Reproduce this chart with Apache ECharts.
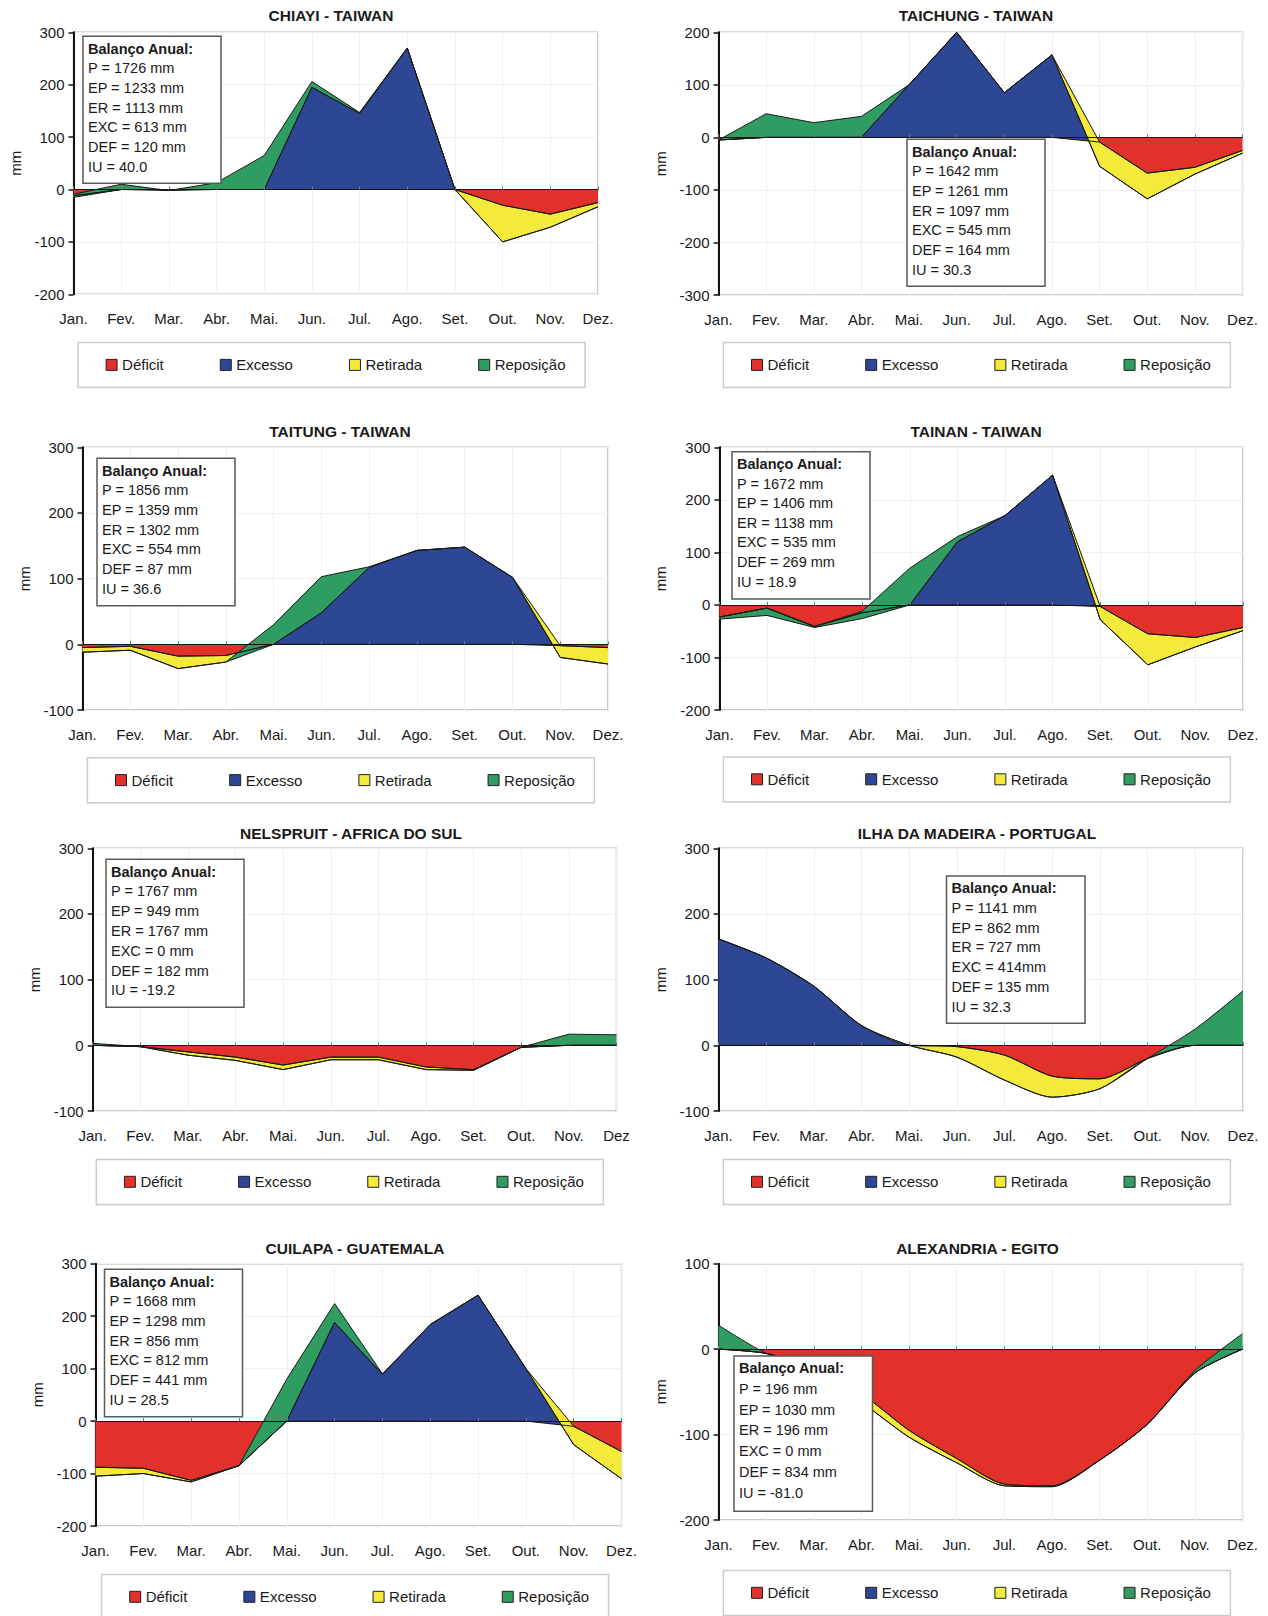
<!DOCTYPE html>
<html>
<head>
<meta charset="utf-8">
<script src="https://cdn.jsdelivr.net/npm/echarts@6/dist/echarts.min.js"></script>
<style>
html,body{margin:0;padding:0;background:#fff;}
#c{width:1268px;height:1616px;}
</style>
</head>
<body>
<div id="c"></div>
<script>
// ---------- DATA ----------
const months = ['Jan.','Fev.','Mar.','Abr.','Mai.','Jun.','Jul.','Ago.','Set.','Out.','Nov.','Dez.'];
const monthsNelspruit = ['Jan.','Fev.','Mar.','Abr.','Mai.','Jun.','Jul.','Ago.','Set.','Out.','Nov.','Dez'];
const seriesNames = ['Déficit','Excesso','Retirada','Reposição'];

const titles = ['CHIAYI - TAIWAN','TAICHUNG - TAIWAN','TAITUNG - TAIWAN','TAINAN - TAIWAN',
  'NELSPRUIT - AFRICA DO SUL','ILHA DA MADEIRA - PORTUGAL','CUILAPA - GUATEMALA','ALEXANDRIA - EGITO'];
const yMins = [-200,-300,-100,-200,-100,-100,-200,-200];
const yMaxs = [300,200,300,300,300,300,300,100];

// Chiayi
const chiayiDeficit   = [-12,0,0,0,0,0,0,0,0,-30,-47,-25];
const chiayiExcesso   = [0,0,0,0,0,195,145,270,0,0,0,0];
const chiayiRetirada  = [-3,0,-2,0,0,0,0,0,0,-70,-25,-8];
const chiayiReposicao = [6,10,0,13,65,11,2,0,0,0,0,0];
// Taichung
const taichungDeficit   = [-5,0,0,0,0,0,0,0,-9,-68,-57,-25];
const taichungExcesso   = [0,0,0,0,100,200,85,157,0,0,0,0];
const taichungRetirada  = [0,0,0,0,0,0,0,0,-46,-49,-13,-5];
const taichungReposicao = [0,45,28,40,0,0,0,0,0,0,0,0];
// Taitung
const taitungDeficit   = [-5,-3,-18,-17,0,0,0,0,0,0,-2,-5];
const taitungExcesso   = [0,0,0,0,0,48,117,143,148,102,0,0];
const taitungRetirada  = [-7,-6,-19,-10,0,0,0,0,0,0,-18,-25];
const taitungReposicao = [0,0,0,0,30,55,1,0,0,0,0,0];
// Tainan
const tainanDeficit   = [-23,-6,-41,-15,0,0,0,0,-3,-55,-62,-43];
const tainanExcesso   = [0,0,0,0,0,120,170,247,0,0,0,0];
const tainanRetirada  = [-4,-14,-2,-11,0,0,0,0,-25,-59,-18,-6];
const tainanReposicao = [4,14,2,14,70,10,0,0,0,0,0,0];
// Nelspruit
const nelspruitDeficit   = [0,-2,-10,-18,-30,-18,-18,-33,-37,-3,0,0];
const nelspruitExcesso   = [0,0,0,0,0,0,0,0,0,0,0,0];
const nelspruitRetirada  = [0,0,-5,-5,-7,-4,-4,-4,-1,0,0,0];
const nelspruitReposicao = [3,0,0,0,0,0,0,0,0,0,17,16];
// Ilha da Madeira
const madeiraDeficit   = [0,0,0,0,0,-2,-15,-47,-51,-20,0,0];
const madeiraExcesso   = [162,133,90,30,0,0,0,0,0,0,0,0];
const madeiraRetirada  = [0,0,0,0,0,-16,-38,-32,-15,0,0,0];
const madeiraReposicao = [0,0,0,0,0,0,0,0,0,0,25,83];
// Cuilapa
const cuilapaDeficit   = [-88,-90,-113,-85,0,0,0,0,0,0,-10,-58];
const cuilapaExcesso   = [0,0,0,0,0,188,89,184,240,100,0,0];
const cuilapaRetirada  = [-17,-10,-3,0,0,0,0,0,0,0,-35,-52];
const cuilapaReposicao = [0,0,0,0,80,36,1,0,0,0,0,0];
// Alexandria
const alexandriaDeficit   = [0,-5,-22,-52,-95,-128,-158,-160,-130,-88,-28,0];
const alexandriaExcesso   = [0,0,0,0,0,0,0,0,0,0,0,0];
const alexandriaRetirada  = [0,0,-3,-10,-8,-5,-2,-1,0,0,0,0];
const alexandriaReposicao = [28,0,0,0,0,0,0,0,0,0,3,18];

// Annual balance boxes
const chiayiBox     = ['Balanço Anual:','P = 1726 mm','EP = 1233 mm','ER = 1113 mm','EXC = 613 mm','DEF = 120 mm','IU = 40.0'];
const taichungBox   = ['Balanço Anual:','P = 1642 mm','EP = 1261 mm','ER = 1097 mm','EXC = 545 mm','DEF = 164 mm','IU = 30.3'];
const taitungBox    = ['Balanço Anual:','P = 1856 mm','EP = 1359 mm','ER = 1302 mm','EXC = 554 mm','DEF = 87 mm','IU = 36.6'];
const tainanBox     = ['Balanço Anual:','P = 1672 mm','EP = 1406 mm','ER = 1138 mm','EXC = 535 mm','DEF = 269 mm','IU = 18.9'];
const nelspruitBox  = ['Balanço Anual:','P = 1767 mm','EP = 949 mm','ER = 1767 mm','EXC = 0 mm','DEF = 182 mm','IU = -19.2'];
const madeiraBox    = ['Balanço Anual:','P = 1141 mm','EP = 862 mm','ER = 727 mm','EXC = 414mm','DEF = 135 mm','IU = 32.3'];
const cuilapaBox    = ['Balanço Anual:','P = 1668 mm','EP = 1298 mm','ER = 856 mm','EXC = 812 mm','DEF = 441 mm','IU = 28.5'];
const alexandriaBox = ['Balanço Anual:','P = 196 mm','EP = 1030 mm','ER = 196 mm','EXC = 0 mm','DEF = 834 mm','IU = -81.0'];

// ---------- ASSEMBLY ----------
const panelValues = [
  [chiayiDeficit, chiayiExcesso, chiayiRetirada, chiayiReposicao],
  [taichungDeficit, taichungExcesso, taichungRetirada, taichungReposicao],
  [taitungDeficit, taitungExcesso, taitungRetirada, taitungReposicao],
  [tainanDeficit, tainanExcesso, tainanRetirada, tainanReposicao],
  [nelspruitDeficit, nelspruitExcesso, nelspruitRetirada, nelspruitReposicao],
  [madeiraDeficit, madeiraExcesso, madeiraRetirada, madeiraReposicao],
  [cuilapaDeficit, cuilapaExcesso, cuilapaRetirada, cuilapaReposicao],
  [alexandriaDeficit, alexandriaExcesso, alexandriaRetirada, alexandriaReposicao]
];
const panelBoxes = [chiayiBox, taichungBox, taitungBox, tainanBox, nelspruitBox, madeiraBox, cuilapaBox, alexandriaBox];
const panelMonths = [months, months, months, months, monthsNelspruit, months, months, months];

// layout (pixels)
const layout = [
  {grid:[73.5,32.3,524.5,262],   title:[331,15.5],    box:[83,36.3,138,147],    gap:19.7, legend:[78,342.6]},
  {grid:[718.5,32.3,524,262.7],  title:[976,15.5],    box:[907,139.3,138,147],  gap:19.7, legend:[723.4,342.6]},
  {grid:[82.5,447.3,525.5,262.7],title:[340,431],     box:[97,458.3,138,147.5], gap:19.7, legend:[87.4,757.8]},
  {grid:[719.4,447.3,523.6,262.7],title:[976,431],    box:[732,451.7,138,147.3],gap:19.6, legend:[723.4,757]},
  {grid:[92.7,848.3,523.8,262.7],title:[351,833],     box:[106,859.3,138,148],  gap:19.8, legend:[96.3,1159.5]},
  {grid:[718.5,848.3,524.5,262.7],title:[977,833],    box:[946.5,876,138.5,147.3],gap:19.7, legend:[723.4,1159.5]},
  {grid:[95.5,1263.7,526,262.3], title:[355,1248.5],  box:[104.5,1269.3,138,147.4],gap:19.7, legend:[101.6,1574.5]},
  {grid:[718.5,1263.7,524,256.3],title:[977.5,1248.5],box:[734,1356,138.5,155.3],gap:20.7, legend:[723.4,1570.5]}
];
const smoothFlags = [false,false,false,false,false,0.25,false,0.25];
const fillColors = ['#e2312b','#2d4795','#f3ea3b','#2f9c62'];
const FONT = '"Liberation Sans", Arial, Helvetica, sans-serif';
const TXT = '#1a1a1a';

const grids = [], xAxes = [], yAxes = [], series = [], legends = [], graphics = [];

layout.forEach((L, i) => {
  const [gl, gt, gw, gh] = L.grid;
  grids.push({left: gl, top: gt, width: gw, height: gh, show: true,
    borderColor: '#b8b8b8', borderWidth: 1.5, backgroundColor: 'transparent',
    containLabel: false, outerBoundsMode: 'none'});
  // label axis at bottom
  xAxes.push({type: 'category', gridIndex: i, data: panelMonths[i], boundaryGap: false, position: 'bottom',
    axisLine: {show: false, onZero: false}, axisTick: {show: false},
    axisLabel: {interval: 0, fontSize: 15, color: TXT, margin: 17, fontFamily: FONT},
    splitLine: {show: true, interval: 0, lineStyle: {color: '#f0f0f0', width: 1}}});
  // axis line crossing at zero
  xAxes.push({type: 'category', gridIndex: i, data: panelMonths[i], boundaryGap: false, position: 'top',
    axisLine: {show: true, onZero: true, lineStyle: {color: '#161616', width: 1}},
    axisTick: {show: true, interval: 0, length: 3, lineStyle: {color: '#777', width: 1}},
    axisLabel: {show: false}, splitLine: {show: false}, z: 6});
  yAxes.push({type: 'value', gridIndex: i, min: yMins[i], max: yMaxs[i], interval: 100,
    axisLine: {show: true, onZero: false, lineStyle: {color: '#111', width: 2}},
    axisTick: {show: true, length: 5, lineStyle: {color: '#111', width: 1.5}},
    axisLabel: {fontSize: 15, color: TXT, margin: 9, fontFamily: FONT},
    splitLine: {show: true, lineStyle: {color: '#f0f0f0', width: 1}},
    name: 'mm', nameLocation: 'middle', nameGap: 51,
    nameTextStyle: {fontSize: 15, color: TXT, fontFamily: FONT}});
  panelValues[i].forEach((vals, k) => {
    series.push({name: seriesNames[k], type: 'line', xAxisIndex: 2 * i, yAxisIndex: i,
      data: vals, stack: 'panel' + i, stackStrategy: 'all', symbol: 'none', showSymbol: false,
      smooth: smoothFlags[i],
      lineStyle: {color: '#1a1a1a', width: 1},
      areaStyle: {color: fillColors[k], opacity: 1},
      itemStyle: {color: fillColors[k]},
      emphasis: {disabled: true}, silent: true, z: 2});
  });
  // legend
  const [lx, ly] = L.legend;
  graphics.push({type: 'rect', shape: {x: lx, y: ly, width: 507, height: 45},
    style: {fill: '#ffffff', stroke: '#cccccc', lineWidth: 1.5}, z: 1, silent: true});
  legends.push({left: lx + 27.6, top: ly + 22.3 - 7.5, padding: 0, itemGap: 56,
    itemWidth: 11, itemHeight: 11, icon: 'rect', selectedMode: false,
    textStyle: {fontSize: 15, color: TXT, fontFamily: FONT, lineHeight: 15},
    data: seriesNames.map((n, k) => ({name: n, icon: 'rect',
      itemStyle: {color: fillColors[k], borderColor: '#222', borderWidth: 1}}))});
  // title
  graphics.push({type: 'text', x: L.title[0], y: L.title[1], z: 50, silent: true,
    style: {text: titles[i], fill: TXT, fontSize: 15.5, fontWeight: 'bold', fontFamily: FONT,
      align: 'center', verticalAlign: 'middle'}});
  // annual balance box
  const [bx, by, bw, bh] = L.box;
  graphics.push({type: 'rect', shape: {x: bx, y: by, width: bw, height: bh},
    style: {fill: '#ffffff', stroke: '#5a5a5a', lineWidth: 1.5}, z: 100, silent: true});
  panelBoxes[i].forEach((line, j) => {
    graphics.push({type: 'text', x: bx + 5, y: by + 12.3 + j * L.gap, z: 101, silent: true,
      style: {text: line, fill: TXT, fontSize: 14.5, fontWeight: j === 0 ? 'bold' : 'normal',
        fontFamily: FONT, align: 'left', verticalAlign: 'middle'}});
  });
});

const chart = echarts.init(document.getElementById('c'), null, {renderer: 'svg', width: 1268, height: 1616});
chart.setOption({
  animation: false,
  backgroundColor: '#ffffff',
  textStyle: {fontFamily: FONT},
  tooltip: {show: false},
  grid: grids, xAxis: xAxes, yAxis: yAxes, series: series, legend: legends,
  graphic: {elements: graphics}
});
</script>
</body>
</html>
